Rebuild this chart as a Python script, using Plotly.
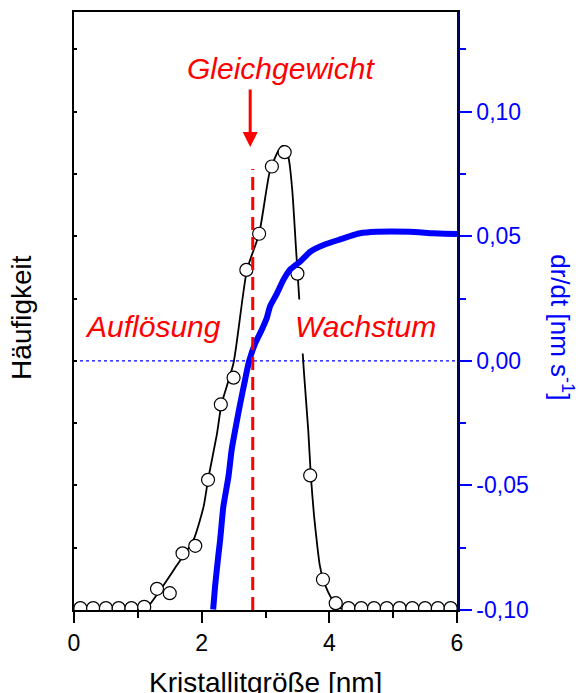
import plotly.graph_objects as go

# Häufigkeit (measured points)
size_x = [0.1, 0.3, 0.5, 0.7, 0.9, 1.1, 1.3, 1.5, 1.7, 1.9, 2.1, 2.3, 2.5, 2.7, 2.9,
          3.1, 3.3, 3.5, 3.7, 3.9, 4.1, 4.3, 4.5, 4.7, 4.9, 5.1, 5.3, 5.5, 5.7, 5.9]
freq_y = [0.03, 0.03, 0.03, 0.03, 0.03, 0.05, 0.34, 0.27, 0.91, 1.03, 2.09, 3.30, 3.73, 5.46, 6.04,
          7.12, 7.35, 5.40, 2.16, 0.49, 0.11, 0.03, 0.03, 0.03, 0.03, 0.03, 0.03, 0.03, 0.03, 0.03]

# fitted distribution curve
fit_x = [0.0, 1.0, 1.11, 1.35, 1.58, 1.87, 2.03, 2.10, 2.24, 2.31, 2.50, 2.71, 2.90, 3.07, 3.20,
         3.27, 3.32, 3.37, 3.42, 3.48, 3.54, 3.60, 3.67, 3.71, 3.76, 3.81, 3.85, 3.90, 3.98,
         4.07, 4.17, 5.0, 6.0]
fit_y = [0.0, 0.0, 0.0, 0.32, 0.67, 1.12, 1.66, 2.09, 2.83, 3.30, 3.97, 5.46, 6.04, 7.05, 7.37,
         7.45, 7.43, 7.21, 6.73, 5.77, 4.81, 3.85, 2.88, 2.16, 1.52, 1.04, 0.72, 0.50, 0.29,
         0.13, 0.03, 0.0, 0.0]

# dr/dt curve
rate_x = [2.18, 2.21, 2.26, 2.29, 2.34, 2.42, 2.47, 2.54, 2.60, 2.68, 2.74, 2.84, 2.94, 3.02,
          3.07, 3.18, 3.28, 3.38, 3.54, 3.70, 3.91, 4.14, 4.48, 4.74, 5.26, 5.63, 6.00]
rate_y = [-0.0998, -0.0905, -0.0784, -0.0717, -0.0584, -0.0464, -0.0357, -0.0257, -0.0176,
          -0.0076, -0.0004, 0.0071, 0.0124, 0.0172, 0.0218, 0.0271, 0.0325, 0.0365, 0.0398,
          0.0438, 0.0465, 0.0485, 0.0512, 0.0518, 0.0518, 0.0512, 0.0509]

x_ticks = [0, 2, 4, 6]
x_ticktext = ["0", "2", "4", "6"]
rate_ticks = [-0.10, -0.05, 0.00, 0.05, 0.10]
rate_ticktext = ["-0,10", "-0,05", "0,00", "0,05", "0,10"]

equilibrium_x = 2.8

FONT = "Liberation Sans, Arial, sans-serif"

fig = go.Figure()

fig.add_trace(go.Scatter(x=fit_x, y=fit_y, mode="lines", yaxis="y",
                         line=dict(color="black", width=1.8, shape="spline", smoothing=0.6),
                         showlegend=False))
fig.add_trace(go.Scatter(x=size_x, y=freq_y, mode="markers", yaxis="y",
                         marker=dict(size=13, color="white", line=dict(color="black", width=1.2)),
                         showlegend=False))
fig.add_trace(go.Scatter(x=rate_x, y=rate_y, mode="lines", yaxis="y2",
                         line=dict(color="#0000ff", width=6, shape="spline", smoothing=0.5),
                         showlegend=False))

# dotted zero line
fig.add_shape(type="line", xref="x", yref="y2", x0=0, x1=6, y0=0, y1=0,
              line=dict(color="#0000ff", width=1.2, dash="dot"), layer="below")
# equilibrium dashed line
fig.add_shape(type="line", xref="x", yref="y2", x0=equilibrium_x, x1=equilibrium_x,
              y0=-0.10, y1=0.077, line=dict(color="#ff0000", width=3, dash="13px,7px"))

fig.add_annotation(x=2.76, y=0.0858, xref="x", yref="y2", ax=0, ay=-59, text="",
                   showarrow=True, arrowhead=2, arrowsize=1, arrowwidth=3, arrowcolor="#ff0000")
fig.add_annotation(x=3.24, y=0.1174, xref="x", yref="y2", text="<i>Gleichgewicht</i>",
                   xanchor="center", yanchor="middle",
                   showarrow=False, font=dict(family=FONT, size=30, color="#ff0000"))
fig.add_annotation(x=1.24, y=0.0136, xref="x", yref="y2", text="<i>Auflösung</i>",
                   xanchor="center", yanchor="middle",
                   showarrow=False, font=dict(family=FONT, size=30, color="#ff0000"))
fig.add_annotation(x=4.57, y=0.0136, xref="x", yref="y2", text="<i>Wachstum</i>",
                   xanchor="center", yanchor="middle", bgcolor="white", borderpad=10,
                   showarrow=False, font=dict(family=FONT, size=30, color="#ff0000"))

# axis titles
fig.add_annotation(x=0.5, y=-0.122, xref="paper", yref="paper", text="Kristallitgröße [nm]",
                   xanchor="center", yanchor="middle",
                   showarrow=False, font=dict(family=FONT, size=28, color="black"))
fig.add_annotation(x=-0.136, y=0.49, xref="paper", yref="paper", text="Häufigkeit",
                   xanchor="center", yanchor="middle",
                   textangle=-90, showarrow=False, font=dict(family=FONT, size=28, color="black"))
fig.add_annotation(x=1.274, y=0.473, xref="paper", yref="paper",
                   text="dr/dt [nm s<sup>-1</sup>]", textangle=90, showarrow=False,
                   xanchor="center", yanchor="middle",
                   font=dict(family=FONT, size=26, color="#0000ff"))

fig.update_layout(
    width=580, height=693,
    margin=dict(l=74, r=123, t=12, b=83),
    paper_bgcolor="white", plot_bgcolor="white",
    font=dict(family=FONT),
    xaxis=dict(range=[0, 6], tickvals=x_ticks, ticktext=x_ticktext, ticks="outside",
               ticklen=11, tickwidth=2, tickcolor="black", showline=True, linewidth=2,
               linecolor="black", mirror=True, showgrid=False, zeroline=False,
               tickfont=dict(size=23, color="black"), automargin=False,
               minor=dict(dtick=1, tick0=0, ticks="outside", ticklen=6, tickwidth=2,
                          tickcolor="black", showgrid=False)),
    yaxis=dict(range=[0, 9.6], side="left", dtick=1, tick0=0,
               ticks="inside", ticklen=3, tickwidth=2, tickcolor="black",
               showticklabels=False, showline=True, linewidth=2, linecolor="black",
               showgrid=False, zeroline=False, automargin=False),
    yaxis2=dict(range=[-0.10, 0.14], overlaying="y", side="right", tickvals=rate_ticks,
                ticktext=rate_ticktext, anchor="x",
                ticks="outside", ticklen=12, tickwidth=2, tickcolor="#0000ff",
                showline=True, linewidth=2.5, linecolor="#000060", showgrid=False,
                zeroline=False, tickfont=dict(size=23, color="#0000ff"), automargin=False,
                minor=dict(dtick=0.025, tick0=0, ticks="outside", ticklen=6, tickwidth=2,
                           tickcolor="#0000ff", showgrid=False)),
)

fig.write_html("out.html")
